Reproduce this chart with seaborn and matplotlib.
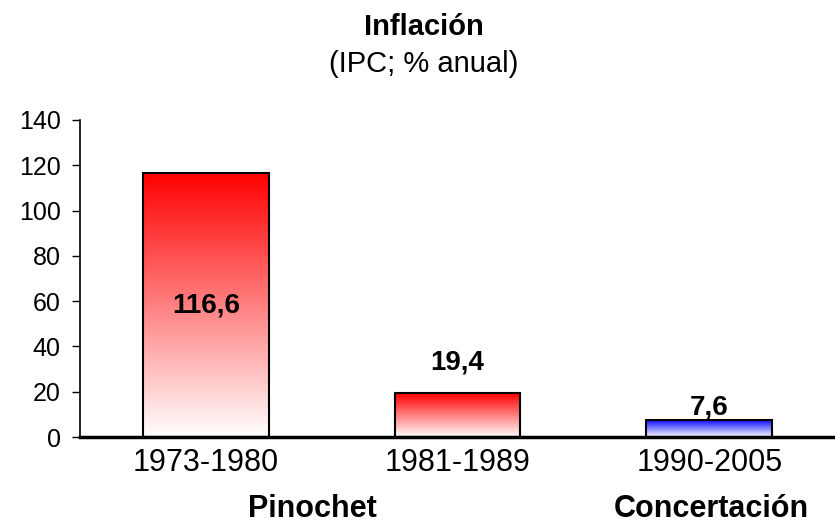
import numpy as np
import pandas as pd
import matplotlib
matplotlib.use("Agg")
import matplotlib.pyplot as plt
import seaborn as sns
from matplotlib.colors import LinearSegmentedColormap

# Data
periods = ["1973-1980", "1981-1989", "1990-2005"]
inflation = [116.6, 19.4, 7.6]
value_labels = ["116,6", "19,4", "7,6"]
top_colors = ["#ff0000", "#ff0000", "#0000ff"]

df = pd.DataFrame({"period": periods, "inflation": inflation})

sns.set_style("white", {"axes.edgecolor": "black", "text.color": "black",
                        "xtick.color": "black", "ytick.color": "black",
                        "axes.labelcolor": "black"})
plt.rcParams["font.family"] = ["Liberation Sans", "DejaVu Sans"]

fig = plt.figure(figsize=(8.35, 5.26), dpi=100)
ax = fig.add_axes([0.096, 0.169, 0.904, 0.603])

sns.barplot(data=df, x="period", y="inflation", ax=ax, width=0.5,
            color="white", edgecolor="black", linewidth=1.5)

# gradient fill for each bar, white at bottom to full colour at top
grad = np.linspace(0, 1, 256).reshape(-1, 1)
for patch, col in zip(ax.patches, top_colors):
    cmap = LinearSegmentedColormap.from_list("g", ["white", col])
    x0, y0 = patch.get_x(), patch.get_y()
    w, h = patch.get_width(), patch.get_height()
    im = ax.imshow(grad, cmap=cmap, aspect="auto", origin="lower",
                   extent=[x0, x0 + w, y0, y0 + h], zorder=patch.get_zorder())
    im.set_clip_path(patch)
    patch.set_facecolor("none")
    patch.set_zorder(patch.get_zorder() + 0.1)

ax.set_xlim(-0.5, 2.5)
ax.set_ylim(0, 140)
ax.set_yticks(range(0, 141, 20))

# value labels: first one inside the bar, the others above
ax.text(0, inflation[0] / 2, value_labels[0], ha="center", va="center",
        fontsize=20, fontweight="bold")
ax.annotate(value_labels[1], (1, inflation[1]), xytext=(0, 22),
            textcoords="offset points", ha="center", va="center",
            fontsize=20, fontweight="bold")
ax.annotate(value_labels[2], (2, inflation[2]), xytext=(0, 9),
            textcoords="offset points", ha="center", va="center",
            fontsize=20, fontweight="bold")

ax.set_xlabel("")
ax.set_ylabel("")
sns.despine(ax=ax, top=True, right=True)
ax.spines["left"].set_linewidth(1.2)
ax.spines["bottom"].set_linewidth(2.5)
ax.tick_params(axis="y", direction="out", length=6, width=1, labelsize=18,
               left=True, pad=8)
ax.tick_params(axis="x", length=0, labelsize=22, pad=8)

# titles
fig.text(0.508, 0.948, "Inflación", ha="center", va="center",
         fontsize=21, fontweight="bold")
fig.text(0.508, 0.878, "(IPC; % anual)", ha="center", va="center", fontsize=21)

# government labels
fig.text(0.374, 0.032, "Pinochet", ha="center", va="center",
         fontsize=22, fontweight="bold")
fig.text(0.852, 0.032, "Concertación", ha="center", va="center",
         fontsize=22, fontweight="bold")

fig.savefig("out.png", dpi=100)
